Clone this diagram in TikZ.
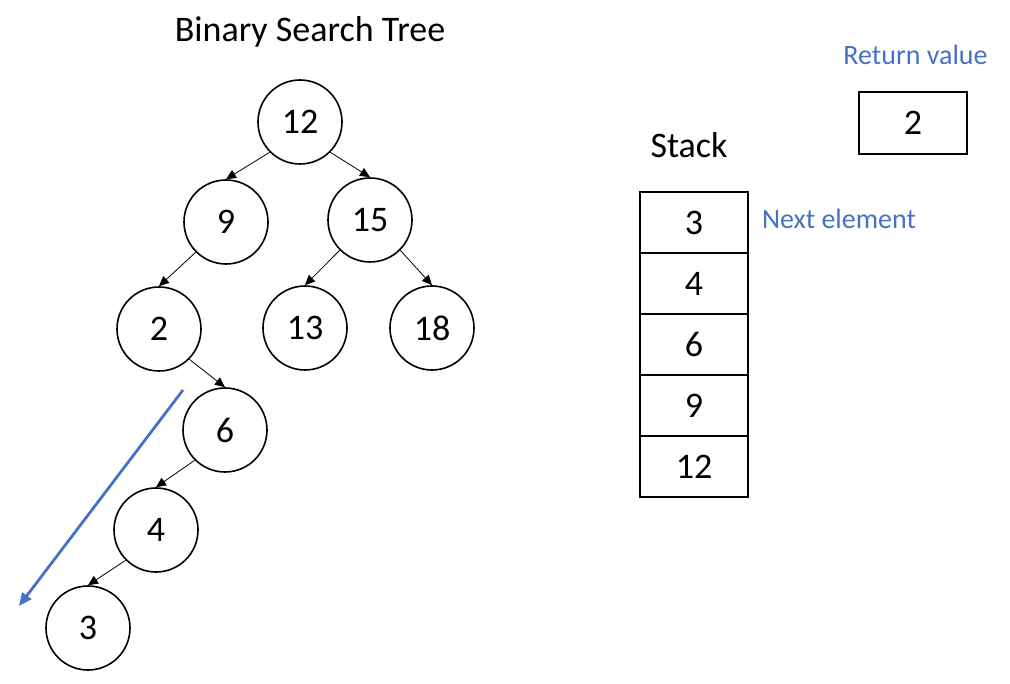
\documentclass[tikz,border=0pt]{standalone}
\usepackage{fontspec}
\setmainfont{Carlito}
\usetikzlibrary{arrows.meta}
\definecolor{accent}{RGB}{68,114,196}
\begin{document}
\begin{tikzpicture}[x=1pt,y=-1pt,
  bignum/.style={font=\fontsize{36}{40}\selectfont},
  treenode/.style={circle,draw,line width=1.6pt,minimum size=84pt,inner sep=0pt,bignum},
  edge/.style={line width=0.8pt,-{Triangle[length=10pt,width=9pt]}},
  cell/.style={rectangle,draw,line width=1.8pt,minimum width=108pt,minimum height=61pt,inner sep=0pt,bignum},
  bluelabel/.style={text=accent,font=\fontsize{28}{32}\selectfont,anchor=base,inner sep=0pt},
  title/.style={font=\fontsize{36}{40}\selectfont,anchor=base,inner sep=0pt}]
\useasboundingbox (0,0) rectangle (1010,684);
% tree
\node[title] (ttl) at (310,42) {Binary Search Tree};
\node[treenode] (n12) at (300,122) {12};
\node[treenode] (n9)  at (226,222) {9};
\node[treenode] (n15) at (370,220) {15};
\node[treenode] (n2)  at (159,329) {2};
\node[treenode] (n13) at (305,328) {13};
\node[treenode] (n18) at (432,328) {18};
\node[treenode] (n6)  at (225,430) {6};
\node[treenode] (n4)  at (156,530) {4};
\node[treenode] (n3)  at (88,628) {3};
\draw[edge] (n12.south west) -- (n9.north);
\draw[edge] (n12.south east) -- (n15.north);
\draw[edge] (n9.south west) -- (n2.north);
\draw[edge] (n15.south west) -- (n13.north);
\draw[edge] (n15.south east) -- (n18.north);
\draw[edge] (n2.south east) -- (n6.north);
\draw[edge] (n6.south west) -- (n4.north);
\draw[edge] (n4.south west) -- (n3.north);
% blue arrow
\coordinate (bs) at (183,390);
\coordinate (be) at (19,606);
\draw[accent,line width=2.8pt,-{Triangle[length=13pt,width=11pt]}] (bs) -- (be);
% stack
\node[title] (stk) at (689,158) {Stack};
\node[cell] (s3)  at (694,222.5) {3};
\node[cell] (s4)  at (694,283.5) {4};
\node[cell] (s6)  at (694,344.5) {6};
\node[cell] (s9)  at (694,405.5) {9};
\node[cell] (s12) at (694,466.5) {12};
\node[bluelabel] (nxt) at (839,229) {Next element};
% return value
\node[bluelabel] (rv) at (915.5,65) {Return value};
\node[cell,minimum height=62pt] (ret) at (913,123) {2};
\end{tikzpicture}
\end{document}
